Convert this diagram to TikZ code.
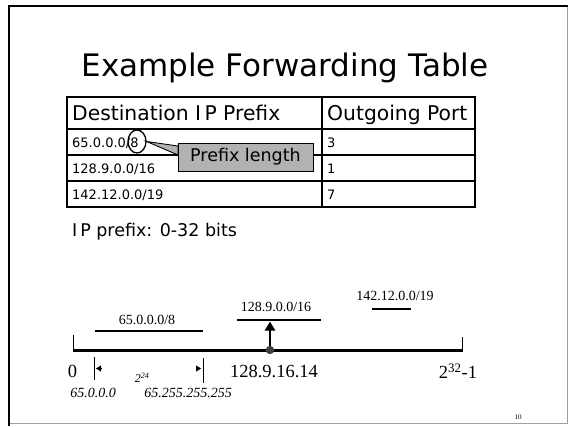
\documentclass[tikz,border=0pt]{standalone}
\usepackage{fontspec}
\setmainfont{Liberation Serif}
\newfontfamily\slidesans{DejaVu Sans}
\usetikzlibrary{arrows.meta,shapes.geometric}
\definecolor{calloutgray}{HTML}{B2B2B2}
\definecolor{framegray}{HTML}{A0A0A0}
\definecolor{dotgray}{HTML}{404040}
\begin{document}
\begin{tikzpicture}[x=1pt,y=-1pt,
  titletext/.style={font=\slidesans\fontsize{31}{36}\selectfont, inner sep=0, anchor=base},
  headtext/.style={font=\slidesans\fontsize{20.3}{24}\selectfont, inner sep=0, anchor=base west},
  celltext/.style={font=\slidesans\fontsize{13}{16}\selectfont, inner sep=0, anchor=base west},
  notetext/.style={font=\slidesans\fontsize{17.5}{21}\selectfont, inner sep=0, anchor=base west},
  gridline/.style={line width=1.1pt},
  calloutbox/.style={draw, line width=0.9pt, fill=calloutgray, minimum width=135, minimum height=28,
    inner sep=0, font=\slidesans\fontsize{17.5}{20}\selectfont},
  seglabel/.style={font=\fontsize{14}{16}\selectfont, inner sep=0},
  axislabel/.style={font=\fontsize{18.5}{21}\selectfont, inner sep=0},
  addrlabel/.style={font=\itshape\fontsize{14}{16}\selectfont, inner sep=0},
  segment/.style={line width=2.6pt},
  tick/.style={line width=0.9pt},
  ]
\useasboundingbox (0,0) rectangle (569,426);

% slide frame
\draw[framegray, line width=0.8pt] (9.3,6.3) rectangle (567.5,423.5);
\draw[line width=2pt] (9.3,426) -- (9.3,6.3) -- (567.5,6.3);

% title
\node[titletext] (title) at (285,76) {Example Forwarding Table};

% forwarding table grid
\draw[gridline] (67,97) rectangle (475,207);
\draw[gridline] (322,97) -- (322,207);
\draw[gridline] (67,129) -- (475,129);
\draw[gridline] (67,155) -- (475,155);
\draw[gridline] (67,181) -- (475,181);

\node[headtext] (hdest) at (72,120.6) {Destination I\,P Prefix};
\node[headtext] (hport) at (327,120.6) {Outgoing Port};

\node[celltext] (p1) at (72,147) {65.0.0.0/8};
\node[celltext] (p2) at (72,173) {128.9.0.0/16};
\node[celltext] (p3) at (72,199) {142.12.0.0/19};
\node[celltext] (o1) at (327,147) {3};
\node[celltext] (o2) at (327,173) {1};
\node[celltext] (o3) at (327,199) {7};

% ring around the prefix length and its callout
\node[draw, ellipse, line width=1.3pt, minimum width=18, minimum height=23, inner sep=0] (ring) at (137,141.5) {};
\coordinate (wtop) at (178,146);
\coordinate (wbot) at (178,155);
\draw[line width=0.9pt, fill=calloutgray] (ring.east) -- (wtop) -- (wbot) -- cycle;
\node[calloutbox] (plen) at (245.5,157) {Prefix length};

\node[notetext] (note) at (72,236) {I\,P prefix: 0-32 bits};

% address line
\coordinate (lo) at (73,350);
\coordinate (hi) at (462,350);
\draw[line width=3pt] (lo) -- (hi);
\draw[tick] (73,335) -- (lo);
\draw[tick] (462,337) -- (462,352);
\node[axislabel] (zero) at (72.5,371) {0};
\node[axislabel] (top) at (458,371) {2\textsuperscript{32}-1};

% prefix ranges
\coordinate (a1) at (95,331);  \coordinate (a2) at (203,331);
\coordinate (b1) at (237,320); \coordinate (b2) at (321,320);
\coordinate (c1) at (372,309); \coordinate (c2) at (411,309);
\draw[segment] (a1) -- (a2);
\draw[segment] (b1) -- (b2);
\draw[segment] (c1) -- (c2);
\node[seglabel] (la) at (147,320) {65.0.0.0/8};
\node[seglabel] (lb) at (276,307) {128.9.0.0/16};
\node[seglabel] (lc) at (395,295.5) {142.12.0.0/19};

% looked-up address and the matching range
\coordinate (hit) at (270,350);
\coordinate (hitup) at (270,321.5);
\draw[line width=2.5pt, -{Triangle[length=9pt,width=10pt]}] (hit) -- (hitup);
\fill[dotgray] (hit) circle (4.2);
\node[axislabel] (addr) at (274,371) {128.9.16.14};

% size of the /8 block
\coordinate (d1) at (94,357);  \coordinate (d1b) at (94,380);
\coordinate (d2) at (203,358); \coordinate (d2b) at (203,383);
\draw[tick] (d1) -- (d1b);
\draw[tick] (d2) -- (d2b);
\coordinate (d1in) at (101,368.5);
\coordinate (d1at) at (96,368.5);
\coordinate (d2in) at (196,368.5);
\coordinate (d2at) at (201,368.5);
\draw[line width=0.4pt, -{Triangle[length=5pt,width=6pt]}] (d1in) -- (d1at);
\draw[line width=0.4pt, -{Triangle[length=5pt,width=6pt]}] (d2in) -- (d2at);
\node[addrlabel, font=\itshape\fontsize{12}{14}\selectfont] (span) at (142,378) {2\textsuperscript{24}};
\node[addrlabel] (first) at (93,392.5) {65.0.0.0};
\node[addrlabel] (last) at (188,392.5) {65.255.255.255};

% page number
\node[font=\fontsize{7}{8}\selectfont, inner sep=0] (pg) at (518,417) {10};
\end{tikzpicture}
\end{document}
